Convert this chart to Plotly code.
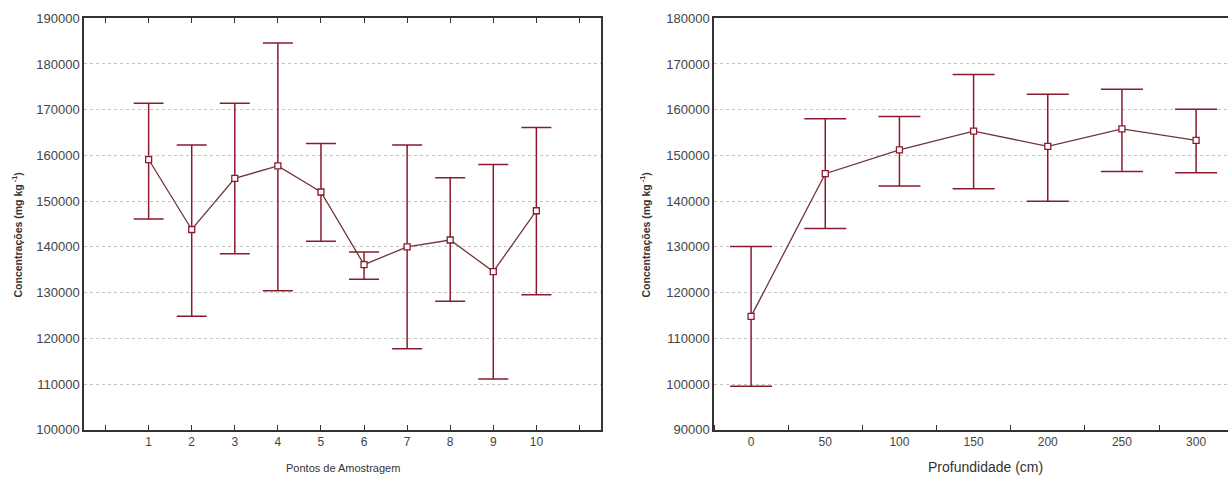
import plotly.graph_objects as go

# ---- Data ----
pontos = [1, 2, 3, 4, 5, 6, 7, 8, 9, 10]
media_pontos = [159100, 143800, 155000, 157700, 152000, 136100, 140000, 141500, 134600, 147900]
sup_pontos = [171400, 162300, 171400, 184600, 162600, 138900, 162300, 155100, 158000, 166100]
inf_pontos = [146100, 124800, 138500, 130400, 141200, 132900, 117700, 128100, 111100, 129500]

prof = [0, 50, 100, 150, 200, 250, 300]
media_prof = [114800, 146000, 151200, 155300, 152000, 155800, 153300]
sup_prof = [130100, 158000, 158500, 167700, 163400, 164500, 160100]
inf_prof = [99500, 134000, 143300, 142700, 140000, 146500, 146200]

left_yticks = list(range(100000, 190001, 10000))
right_yticks = list(range(90000, 180001, 10000))

W, H = 1228, 477
ERR = "#8b1a2e"
LINE = "#6e3440"
AX = "#333333"
GRID = "#c4c4c4"
FONT = "Liberation Sans, Arial, sans-serif"


def py(target_px):
    """paper y-fraction for a target screen pixel (measured render mapping)."""
    return 1 - (target_px - 7.74) / 461.5


fig = go.Figure()

fig.add_trace(go.Scatter(
    x=pontos, y=media_pontos, mode="lines+markers",
    line=dict(color=LINE, width=1.3),
    marker=dict(symbol="square", size=6, color="white", line=dict(color=ERR, width=1.3)),
    error_y=dict(type="data", symmetric=False,
                 array=[s - m for s, m in zip(sup_pontos, media_pontos)],
                 arrayminus=[m - i for m, i in zip(media_pontos, inf_pontos)],
                 color=ERR, thickness=1.5, width=15),
    xaxis="x", yaxis="y", showlegend=False,
))

fig.add_trace(go.Scatter(
    x=prof, y=media_prof, mode="lines+markers",
    line=dict(color=LINE, width=1.3),
    marker=dict(symbol="square", size=6, color="white", line=dict(color=ERR, width=1.3)),
    error_y=dict(type="data", symmetric=False,
                 array=[s - m for s, m in zip(sup_prof, media_prof)],
                 arrayminus=[m - i for m, i in zip(media_prof, inf_prof)],
                 color=ERR, thickness=1.5, width=21),
    xaxis="x2", yaxis="y2", showlegend=False,
))

ydom = [py(430), py(19)]
ytickfont = dict(family=FONT, size=13, color="#444444")
xtickfont = dict(family=FONT, size=12, color="#444444")

fig.update_layout(
    width=W, height=H,
    margin=dict(l=0, r=0, t=0, b=0),
    paper_bgcolor="white", plot_bgcolor="white",
    xaxis=dict(domain=[84 / W, 601 / W], range=[-0.5, 11.5],
               tickmode="array", tickvals=pontos, ticktext=[str(p) for p in pontos],
               ticks="inside", ticklen=5, tickcolor=AX,
               minor=dict(tickmode="linear", tick0=0, dtick=1, ticks="inside",
                          ticklen=5, tickcolor=AX, showgrid=False),
               showline=True, linecolor=AX, linewidth=1.5, mirror="ticks",
               showgrid=False, zeroline=False, tickfont=xtickfont, anchor="y"),
    yaxis=dict(domain=ydom, range=[100000, 190000],
               tickmode="array", tickvals=left_yticks, ticktext=[str(v) for v in left_yticks],
               ticks="", showline=True, linecolor=AX, linewidth=1.5, mirror=True,
               showgrid=True, gridcolor=GRID, griddash="dot", gridwidth=1,
               zeroline=False, tickfont=ytickfont, anchor="x"),
    xaxis2=dict(domain=[714 / W, 1.0], range=[-25, 321.5],
                tickmode="array", tickvals=prof, ticktext=[str(p) for p in prof],
                ticks="", showline=True, linecolor=AX, linewidth=1.5, mirror=True,
                minor=dict(tickmode="linear", tick0=25, dtick=50, ticks="inside",
                           ticklen=5, tickcolor=AX, showgrid=False),
                showgrid=False, zeroline=False,
                tickfont=xtickfont, anchor="y2"),
    yaxis2=dict(domain=ydom, range=[90000, 180000],
                tickmode="array", tickvals=right_yticks, ticktext=[str(v) for v in right_yticks],
                ticks="", showline=True, linecolor=AX, linewidth=1.5, mirror=False,
                showgrid=True, gridcolor=GRID, griddash="dot", gridwidth=1,
                zeroline=False, tickfont=ytickfont, anchor="x2"),
    annotations=[
        dict(text="Pontos de Amostragem", x=342.5 / W, y=py(468),
             xref="paper", yref="paper", showarrow=False,
             xanchor="center", yanchor="middle",
             font=dict(family=FONT, size=11, color="#333333")),
        dict(text="Profundidade (cm)", x=985 / W, y=py(467),
             xref="paper", yref="paper", showarrow=False,
             xanchor="center", yanchor="middle",
             font=dict(family=FONT, size=14, color="#333333")),
        dict(text="Concentrações (mg kg<sup> -1</sup>)", x=17 / W, y=py(236),
             xref="paper", yref="paper", showarrow=False, textangle=-90,
             xanchor="center", yanchor="middle",
             font=dict(family=FONT, size=10.5, color="#333333", weight="bold")),
        dict(text="Concentrações (mg kg<sup> -1</sup>)", x=645 / W, y=py(236),
             xref="paper", yref="paper", showarrow=False, textangle=-90,
             xanchor="center", yanchor="middle",
             font=dict(family=FONT, size=10.5, color="#333333", weight="bold")),
    ],
)

fig.write_html("out.html")
